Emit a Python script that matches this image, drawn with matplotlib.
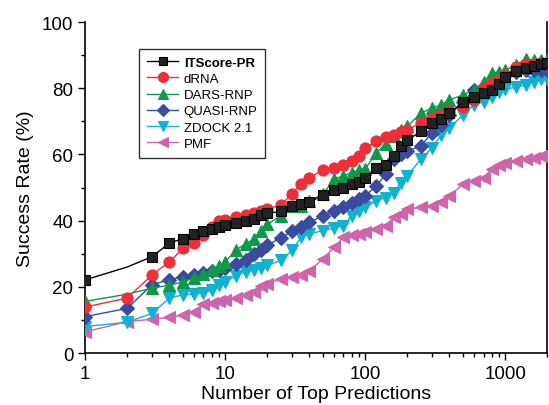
import matplotlib
matplotlib.use("Agg")
import matplotlib.pyplot as plt
from matplotlib.ticker import LogLocator, NullFormatter, FixedLocator

plt.rcParams['font.family'] = ['Liberation Sans', 'DejaVu Sans']

# common rank grid (number of top predictions)
ranks = [1, 2, 3, 4, 5, 6, 7, 8, 9, 10, 12, 14, 16, 18, 20, 25, 30, 35, 40, 50,
         60, 70, 80, 90, 100, 120, 140, 160, 180, 200, 250, 300, 350, 400, 500,
         600, 700, 800, 900, 1000, 1200, 1400, 1600, 1800, 2000]

itscore = [22.1, 26.0, 29.1, 33.2, 34.6, 36.0, 36.8, 37.5, 38.1, 38.7, 39.3, 39.9,
           40.4, 41.8, 42.2, 42.8, 44.5, 45.0, 45.5, 47.8, 49.2, 50.0, 51.0, 51.6,
           53.0, 56.0, 56.8, 59.5, 62.6, 64.3, 67.0, 69.5, 70.8, 72.5, 75.8, 77.4,
           78.5, 79.5, 81.3, 83.5, 85.2, 86.2, 86.8, 87.5, 87.6]
drna = [13.9, 16.6, 23.6, 27.6, 31.6, 33.2, 35.7, 38.2, 40.0, 40.3, 41.0, 41.8,
        42.4, 43.0, 43.4, 44.8, 48.0, 51.2, 53.0, 55.3, 56.0, 56.8, 58.0, 59.6,
        62.0, 64.0, 65.3, 66.0, 66.8, 67.5, 69.5, 71.0, 72.0, 73.2, 74.5, 76.6,
        80.0, 81.5, 82.5, 84.0, 86.5, 87.5, 87.5, 87.6, 87.7]
dars = [15.6, 17.8, 19.6, 20.5, 21.5, 22.8, 23.8, 25.2, 26.2, 27.5, 31.2, 33.0,
        34.4, 37.0, 38.9, 41.5, 44.5, 44.5, 46.0, 48.0, 52.6, 53.5, 54.5, 55.2,
        55.6, 60.5, 63.2, 65.5, 67.5, 68.5, 72.5, 74.0, 75.0, 76.5, 78.0, 79.5,
        82.0, 84.5, 85.0, 85.5, 87.0, 89.0, 88.5, 88.5, 88.5]
quasi = [11.0, 13.5, 20.6, 22.2, 23.0, 23.6, 24.2, 24.8, 25.2, 25.6, 26.8, 28.0,
         30.0, 31.2, 32.6, 34.8, 36.8, 38.0, 39.5, 41.5, 43.0, 44.2, 45.2, 46.5,
         47.5, 50.5, 54.0, 58.6, 60.0, 61.0, 62.6, 66.5, 69.0, 72.0, 76.0, 79.5,
         80.5, 81.5, 82.5, 84.0, 85.0, 85.5, 85.5, 85.5, 85.5]
zdock = [8.0, 9.3, 12.0, 16.6, 17.6, 17.8, 18.2, 19.0, 20.5, 21.5, 23.4, 24.5,
         25.2, 25.8, 26.5, 28.0, 31.0, 35.0, 36.0, 37.0, 37.8, 38.5, 41.5, 43.0,
         44.0, 46.0, 47.0, 48.5, 51.5, 53.6, 58.6, 62.0, 66.0, 68.0, 72.0, 75.0,
         76.0, 77.5, 79.0, 79.8, 80.3, 81.0, 82.0, 82.8, 82.8]
pmf = [6.4, 9.5, 10.2, 10.8, 11.5, 12.3, 14.8, 15.2, 15.6, 16.0, 16.5, 17.5,
       18.3, 20.2, 21.0, 22.4, 22.9, 23.5, 24.9, 28.4, 32.0, 35.0, 35.6, 36.0,
       36.5, 37.5, 38.5, 41.0, 42.0, 43.5, 44.0, 44.5, 45.5, 47.5, 51.0, 52.0,
       53.0, 55.6, 56.8, 57.5, 58.1, 58.6, 59.0, 59.5, 59.7]

labels = ['ITScore-PR', 'dRNA', 'DARS-RNP', 'QUASI-RNP', 'ZDOCK 2.1', 'PMF']
series = [itscore, drna, dars, quasi, zdock, pmf]
colors = ['#000000', '#EE2E38', '#0E9A48', '#3A4BA0', '#10B2D2', '#D064AA']
faces = ['#222222', '#EE2E38', '#0E9A48', '#3A4BA0', '#10B2D2', '#D064AA']
markers = ['s', 'o', '^', 'D', 'v', '<']
sizes = [7, 8, 8, 7, 8, 8]
# ITScore-PR and DARS-RNP have no marker at rank 2
skip2 = [i for i in range(len(ranks)) if i != 1]
marks = [skip2, None, skip2, None, None, None]

fig = plt.figure(figsize=(5.49, 4.06), dpi=100)
ax = fig.add_axes([0.155, 0.128, 0.842, 0.815])

# draw back to front so ITScore-PR sits on top
for i in reversed(range(len(series))):
    ax.plot(ranks, series[i], color=colors[i], marker=markers[i],
            markersize=sizes[i], markerfacecolor=faces[i], markevery=marks[i],
            markeredgecolor=colors[i], markeredgewidth=0.8,
            linewidth=1.0, label=labels[i], zorder=10 - i)

ax.set_xscale('log')
ax.set_xlim(1, 2000)
ax.set_ylim(0, 100)
ax.set_xticks([1, 10, 100, 1000])
ax.set_xticklabels(['1', '10', '100', '1000'])
ax.xaxis.set_minor_locator(LogLocator(base=10, subs=range(2, 10)))
ax.xaxis.set_minor_formatter(NullFormatter())
ax.set_yticks([0, 20, 40, 60, 80, 100])
ax.yaxis.set_minor_locator(FixedLocator([10, 30, 50, 70, 90]))
ax.tick_params(which='major', direction='out', length=5, width=1.0, labelsize=13.5)
ax.tick_params(which='minor', direction='out', length=3, width=1.0)
ax.tick_params(axis='y', which='both', right=False)

ax.spines['top'].set_visible(False)
for s in ['left', 'bottom', 'right']:
    ax.spines[s].set_linewidth(1.2)

ax.set_xlabel('Number of Top Predictions', fontsize=14, labelpad=2)
ax.set_ylabel('Success Rate (%)', fontsize=14, labelpad=6)

h, l = ax.get_legend_handles_labels()
leg = ax.legend(h[::-1], l[::-1], loc='upper left', bbox_to_anchor=(0.102, 0.94),
                fontsize=9.5, frameon=True, fancybox=False, edgecolor='black',
                handlelength=2.4, handletextpad=0.4, borderpad=0.6,
                labelspacing=0.3, markerscale=0.9)
leg.get_frame().set_linewidth(1.0)
leg.get_texts()[0].set_fontweight('bold')

fig.savefig('out.png', dpi=100)
